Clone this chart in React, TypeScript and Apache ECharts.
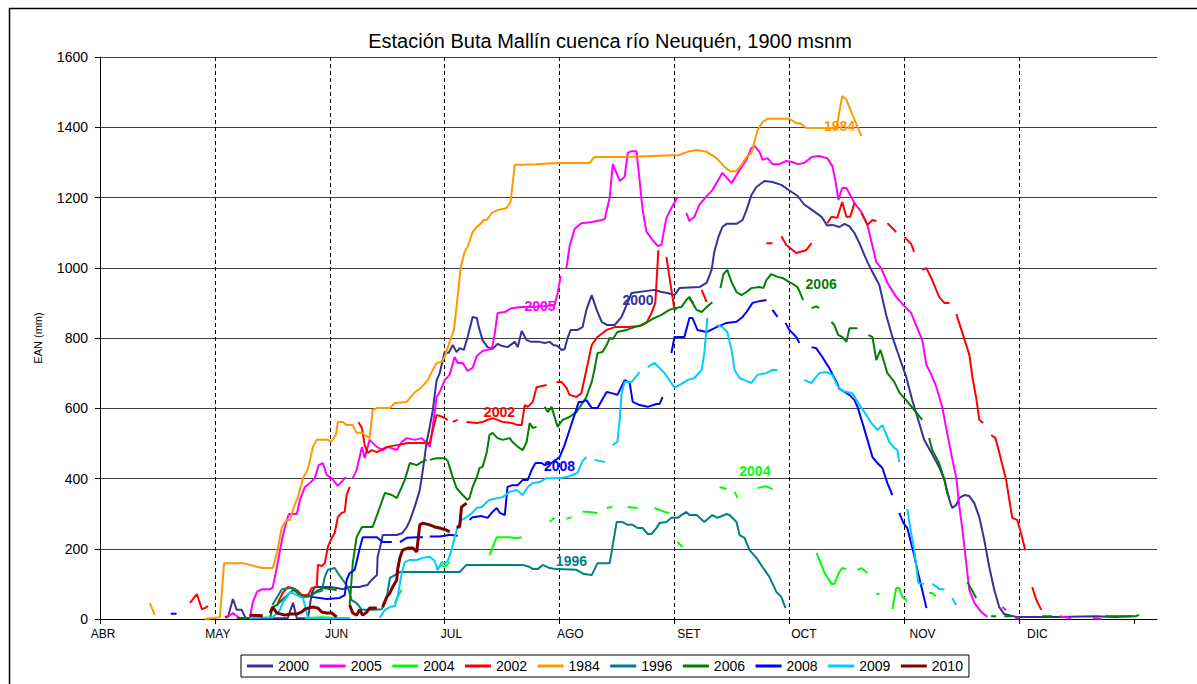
import React, { useEffect, useRef } from "react";
import * as echarts from "echarts";

const TITLE = "Estación Buta Mallín cuenca río Neuquén, 1900 msnm";
const Y_NAME = "EAN (mm)";
const MONTH_NAMES = ["ABR", "MAY", "JUN", "JUL", "AGO", "SET", "OCT", "NOV", "DIC"];
const MONTH_START = [0, 30, 61, 91, 122, 153, 183, 214, 244];
const TICK_DAYS = [0, 30, 60, 90, 120, 150, 180, 210, 240, 270];
const SERIES_NAMES = ["2000", "2005", "2004", "2002", "1984", "1996", "2006", "2008", "2009", "2010"];
const COLORS = ["#333399", "#FF00FF", "#00FF00", "#FF0000", "#FF9900", "#008080", "#008000", "#0000FF", "#00CCFF", "#800000"];

type P = [number, number] | null;

const S2000: P[] = [[33.4,5],[34.7,57],[35.7,26],[37,26],[38,3],[42,2],[49,2],[50.4,46],[51.4,2],[54.3,2],[55.3,74],[56.1,91],[57.9,91],[60,91],[61.8,88],[63.4,85],[65.2,91],[67.8,91],[68.6,94],[69.9,97],[70.4,105],[71.2,114],[72.3,125],[72.5,177],[73.6,225],[73.8,239],[77.5,239],[79,245],[80.1,262],[80.9,280],[82.2,320],[83.5,367],[84.3,424],[85.3,504],[86.1,547],[86.9,595],[87.4,638],[87.9,680],[88.7,700],[90,760],[91,757],[92.1,780],[93.1,760],[93.9,771],[95,766],[96,803],[97.3,860],[98.4,857],[98.9,831],[99.9,794],[101.2,774],[102.5,769],[103.8,783],[105.1,777],[106.4,774],[108.3,789],[109.1,774],[110.1,820],[111.4,794],[112.7,789],[114.8,789],[116.1,786],[117.4,789],[118.4,780],[119.5,777],[120.5,766],[121.3,768],[122.1,800],[122.9,823],[124.7,823],[126,831],[127,880],[128.4,922],[129.7,880],[131,846],[132.5,837],[134.4,837],[136.2,860],[137.8,902],[138.8,928],[144.8,937],[146.6,931],[148.2,928],[150,922],[151.3,942],[156.5,945],[158.4,957],[159.7,994],[160.4,1045],[161.5,1088],[162.5,1116],[163.6,1125],[166.2,1125],[167.8,1136],[168.8,1164],[170.1,1207],[171.4,1230],[173.5,1247],[175.6,1244],[177.9,1236],[180,1220],[182.1,1205],[183.9,1180],[186,1164],[188.4,1145],[189.9,1120],[191.2,1122],[193.1,1116],[194.4,1125],[195.7,1118],[197,1099],[198.3,1070],[199.6,1036],[200.4,1016],[201.7,988],[203.5,951],[205.3,865],[206.9,803],[208.7,746],[210.5,690],[212.1,623],[213.9,558],[215.2,510],[217.1,473],[219.1,433],[220.5,396],[221.8,339],[222.5,316],[223.6,325],[224.4,345],[225.7,353],[227,350],[228.3,330],[229.6,290],[230.9,225],[232.2,148],[233.5,83],[234.8,34],[236.1,14],[239.2,6],[250,6],[260,8],[265,6],[269.5,8]];

const S2005: P[] = [[33,3],[34.7,17],[36.5,2],null,[39.1,0],[39.9,48],[41,77],[42.3,85],[44.4,85],[45.1,90],[46.2,148],[47.5,225],[48.3,262],[49.3,299],[51.4,299],[52.2,339],[53.5,376],[54.8,387],[56.1,401],[57.1,438],[58.2,444],[59.2,410],[60.5,401],[62.1,379],[64.2,404],null,[66,401],[67,424],[68.4,490],[69.1,458],[70.4,510],[72.3,490],[73.8,481],[75.1,490],[77.5,481],[78.8,504],[80.1,515],[82.2,510],[84,515],[85.3,501],[86.1,490],[86.6,524],[87.9,632],[88.7,646],[90,680],[91.3,695],[92.6,746],[93.4,729],[94.7,729],[96,706],[97.3,715],[98.4,749],[99.9,763],[102.3,769],[103.1,814],[103.8,871],[105.7,874],[107.5,885],[110.1,888],[113,888],[116.6,891],[118.7,894],[119.5,928],[120.3,977],null,[121.8,999],[122.6,1060],[123.9,1110],[125.7,1127],[128.4,1130],[131,1136],[131.8,1139],[133.1,1201],[133.9,1295],[135.7,1247],[137,1259],[137.8,1327],[138.8,1332],[140.1,1332],[141.7,1164],[142.7,1102],[144.3,1079],[145.6,1062],[146.6,1065],[147.9,1142],[149.2,1170],[150.8,1201],null,[153.1,1156],[153.9,1133],[155.2,1145],[156.5,1179],[158.4,1204],[159.9,1221],[162.5,1270],[164.9,1241],[167,1278],[168.8,1307],[170.1,1341],[170.9,1347],[172.2,1330],[173,1307],[174.3,1312],[175.6,1295],[177.4,1295],[179.2,1304],[180.8,1301],[182.1,1295],[183.9,1298],[185.8,1315],[187.8,1318],[189.9,1312],[191.2,1290],[192,1250],[192.8,1193],[193.8,1227],[194.9,1227],[197,1184],[198.8,1159],[200.4,1122],[202.7,1016],[204,999],[205.6,957],[207.9,917],[210,891],[211.8,871],[213.4,828],[214.7,794],[215.8,723],[217.1,695],[218.4,660],[219.9,605],[221.2,530],[222.5,458],[223.6,401],[224.4,319],[225.2,253],[226.2,159],[227,83],[228.3,46],[230.1,20],[231.7,6],null,[235.6,34],[236.6,25],null,[239,2],[240,2],null,[250.5,8],[253.6,2],null,[259.3,2],[261.4,0]];

const S2004: P[] = [[53.5,3],[58.2,5],[62,3],[65.2,3],null,[77,46],[77.7,63],[78.8,83],null,[87.9,140],[89.2,154],[90,148],[91.3,162],null,[101.7,182],[103.6,233],[107,233],[108.8,230],[110.1,233],null,[117.4,276],[118.7,288],null,[121.8,285],[123.1,290],null,[126,305],[127.3,305],[129.9,302],null,[132.3,316],[133.8,319],null,[137.8,319],[140.4,316],null,[144.8,316],[147.4,305],[148.7,302],null,[150.8,219],[152.1,205],null,[161.8,376],[163.6,370],null,[165.7,362],[166.5,344],null,[171.7,373],[174,378],[175.6,370],null,[187.1,188],[189.2,131],[191,100],[191.7,100],[193.1,134],[193.8,145],[194.9,142],null,[197.8,140],[198.8,145],[200.4,131],null,[202.7,71],[203.5,71],null,[206.9,28],[207.9,88],[208.7,88],[209.5,63],[210.8,51],null,[216.5,74],[217.3,74],[218.3,65]];

const S2002: P[] = [[23.5,46],[25.3,71],[26.6,28],[27.4,31],[28.2,37],null,[32.6,5],[33.4,8],null,[46.4,46],[47.7,74],[49,91],[50.4,88],[51.7,80],[52.7,68],[54.3,68],[55.3,88],[56.6,91],[56.9,154],[57.9,151],[58.7,159],[59.5,205],[60.5,231],[61.3,245],[62.1,290],[63.1,302],[63.9,305],[64.4,353],[65.2,376],null,[67.5,560],[68.4,544],[69.1,495],[69.9,473],[71,481],[72.3,475],[74.9,490],[77.5,495],[80.4,501],[82.7,501],[84.8,501],[86.1,501],[86.9,538],[87.9,581],[89.5,575],[90.8,567],null,[92.1,561],[93.4,567],null,[95.7,561],[98.4,558],[99.9,561],[101.2,567],[102.5,572],[103.8,567],[105.1,561],[107.5,558],[109.1,552],[110.1,552],[110.9,609],[111.7,604],[113,618],[114,660],[116.6,666],null,[119.2,675],[120.5,675],[121.8,658],[122.6,638],[124.4,632],[125.7,643],[127,709],[128.4,780],[129.9,803],[132.3,823],[134.4,831],[137.8,831],[140.9,834],[142.7,843],[144,871],[145,900],[145.8,1050],null,[147.9,1031],[150,880],[150.5,883],null,[153.9,911],[155,900],null,[157.1,937],[158.4,902],null,[174,1070],[175.6,1070],null,[177.9,1090],[179.2,1065],[181.8,1042],[184.4,1050],[185.8,1070],null,[189.9,1127],[191,1145],[192.5,1142],[193.8,1187],[194.9,1145],[195.9,1145],[197,1184],null,[198.8,1156],[200.4,1122],[201.7,1136],[202.7,1133],null,[205.6,1127],[207.9,1102],null,[210,1088],[211.8,1068],[212.6,1045],null,[214.7,994],[215.8,999],[217.3,965],[219.1,917],[220.5,900],[221.8,900],null,[223.6,868],[225.2,814],[227,752],[227.8,689],[228.8,629],[229.6,567],[230.6,558],null,[232.7,524],[233.8,515],[234.8,475],[236.6,396],[238.2,288],[239.5,282],[240.5,245],[241.6,196],null,[243.4,91],[244.5,54],[245.8,26]];

const S1984: P[] = [[13,45],[14.3,12],null,[27.4,0],[29.5,3],[31.3,5],[32.4,159],[37.3,159],[42.3,145],[45.1,145],[46.2,188],[47.5,262],[48.8,282],[49.6,282],[50.6,319],[51.7,347],[53,401],[54.3,427],[55.6,490],[56.6,510],[59.5,510],[60.3,504],[61.6,524],[62.1,561],[63.4,561],[64.4,552],[66,552],[67,530],[68.4,530],[69.1,524],[70.4,515],[71.2,595],[72.5,601],[75.7,601],[77,615],[80.1,618],[80.9,629],[82.2,645],[84,660],[85.6,680],[86.6,703],[87.9,729],[89.2,732],[90,746],[91.3,789],[92.4,823],[93.1,888],[94.2,1002],[95.2,1045],[96,1059],[97.3,1102],[98.4,1116],[99.1,1122],[100.2,1136],[101,1136],[102.3,1156],[103.8,1164],[106.2,1170],[107.2,1187],[108.3,1293],[110.1,1293],[114,1295],[119.2,1298],[127.8,1298],[129.1,1315],[137.5,1315],[144.3,1318],[151.3,1321],[153.4,1330],[155.8,1335],[158.4,1330],[161,1312],[163.1,1287],[164.5,1275],[166.2,1275],[167.5,1293],[168.8,1315],[170.1,1327],[171.7,1392],[173,1415],[174.3,1424],[180,1424],[181.8,1412],[183.1,1410],[184.4,1398],[192.3,1398],[193.8,1489],[194.9,1478],[196.2,1443],[198.8,1375]];

const S1996: P[] = [[45,40],[47.5,85],[49.6,88],[50.9,85],[52.2,63],[54.3,63],[56.6,77],[57.9,80],[58.7,120],[59.5,140],[61.3,145],[62.1,131],[63.4,111],[64.7,91],[65.7,54],[67,45],[68.4,26],[71,26],[73.6,28],[74.9,63],[75.7,117],[77,125],[78.3,134],[93.9,134],[95.7,154],[110.4,154],[112.2,148],[113,142],[114.3,142],[115.6,154],[117.4,145],[119.2,142],[124.4,140],[126.4,128],[128.4,125],[129.9,159],[133.1,159],[134.9,276],[136.4,276],[137.8,268],[139.1,268],[140.4,259],[141.7,259],[143,242],[144,242],[145.3,259],[146.1,273],[147.9,276],[149.2,288],[150.8,288],[153.1,305],[153.9,296],[155.8,296],[157.8,276],[159.9,296],[161.2,288],[163.6,299],[164.4,296],[166.2,276],[167,239],[168.3,231],[169.6,196],[171.4,174],[173,148],[174.8,120],[176.6,77],[177.9,63],[179,31]];

const S2006: P[] = [[35.7,3],[39.1,3],null,[44.4,3],[45.1,34],[46.2,40],[47.5,54],[49,68],[49.6,74],[50.4,83],[51.7,74],[53,63],[55.3,68],[56.6,80],[58.2,88],[60.5,85],[61.8,82],null,[65.2,40],[66,159],[67,233],[68.4,262],[69.7,262],[71.2,262],[73,316],[74.4,359],[76.2,353],[77.5,344],[78.8,376],[79.6,396],[80.9,444],[82.7,438],[84,447],[85.3,453],null,[86.1,453],[87.9,458],[90,458],[90.8,450],[92.1,404],[93.1,373],[94.7,353],[96,339],[96.5,345],[97.3,376],[98.4,404],[99.1,430],[99.9,433],[101,475],[101.7,524],[102.5,530],[103.8,515],[105.1,510],[107,515],[107.7,504],[109.1,490],[110.4,481],[111.4,504],[112.2,558],[113,544],[114,547],null,[116.1,604],[116.9,589],[117.9,604],[119.5,547],[120.8,567],[122.6,575],[124.4,589],[126,615],[127,632],[128.4,675],[129.1,709],[129.9,757],[131.2,760],[132.3,780],[133.1,800],[133.9,797],[135.1,817],[137.5,823],[139.6,831],[141.4,837],[143,846],[144.8,857],[146.6,866],[148.7,880],[150,885],[151.8,888],[153.1,908],[153.9,917],[154.7,900],[155.8,880],[157.1,874],[158.4,888],[159.9,902],null,[162,942],[162.8,982],[163.8,994],[164.9,959],[166.2,931],[167.5,922],[168.8,931],[170.1,942],[172.2,945],[173.2,942],[174,965],[175.3,982],[176.9,974],[178.2,971],[180,959],[181.3,951],[182.1,945],[182.6,934],[183.6,908],null,[185.8,885],[187,890],[187.8,886],null,[191,846],[191.7,837],[192.8,808],[193.8,803],[194.9,789],[195.7,828],[197.8,828],null,[200.6,808],[201.7,803],[202.7,737],[203.8,766],[205.6,700],[207.4,675],[208.7,645],[210,629],[210.5,623],[212.6,595],[214.7,567],null,[216.5,515],[217.3,481],[219.1,444],[220.5,396],[221.2,359],[221.8,345],null,[226.5,105],[228.8,60],null,[232.7,8],[234,8],null,[236.1,8],[238.2,8],null,[246,8],[248.6,8],null,[262.5,8],[270.5,8],[271.3,12]];

const S2008: P[] = [[18.5,15],[20,15],null,[55.3,63],[59.2,57],[62.6,60],[63.9,68],[64.4,111],[65.2,131],[66.5,140],[67.8,200],[68.6,233],[72.3,233],[73.8,219],[76.2,219],null,[78.3,219],[80.1,231],[82.7,233],[84.3,233],null,[86.1,235],[88.7,235],[90,237],[91.3,240],[93.4,237],null,[96.5,282],[97.3,290],[99.7,293],[101.2,288],[102.5,305],[103.6,316],[104.4,302],[105.7,296],[106.4,376],[107.7,381],[109.1,381],[110.4,396],[111.7,396],[112.7,424],[113.7,444],[115.3,444],[116.1,438],[117.9,444],[120,461],[121.3,495],[122.6,538],[123.9,581],[125,618],[126,618],[127,623],[128.4,601],[129.9,601],[132.3,646],[133.6,643],[135.1,638],[137,680],[138.3,672],[139.1,618],[140.9,609],[143,604],[145.3,612],[146.1,612],[146.9,632],null,[149.2,757],[150,803],[152.6,803],[153.9,857],[154.7,857],[156,823],[158.4,817],[161,831],[163.6,843],[166.2,846],[167.8,860],[168.8,874],[170.4,900],[172.2,905],[174,908],null,[175.6,880],[176.9,860],null,[179,843],[180,823],[181.8,803],[182.6,786],null,[185.8,774],[187,771],[188.6,746],[190.4,715],[192.3,675],[193.1,655],[195.7,638],[197,623],[197.8,604],[199.1,558],[200.4,510],[201.7,461],[203,444],[204.3,430],[205.6,387],[206.9,353],null,[208.7,302],[209.8,273],[210.8,259],[211.8,216],[212.6,182],[213.4,140],[214.5,91],[215.8,31]];

const S2009: P[] = [[39.1,3],[45.1,5],[47,26],[47.7,46],[48.8,63],[49.6,77],[51.4,68],[53,60],[54.3,3],[57.9,3],[62,3],[65.2,3],null,[73,3],[74.4,26],[75.7,34],[77,37],[77.7,63],[78.8,131],[79.6,162],[80.9,168],[82.7,168],[84.3,174],[86.1,177],[87.4,165],[88.2,140],[89.2,162],[90,158],[90.8,165],[91.8,196],[92.6,233],[93.4,262],[94.4,282],[95.7,290],[97.1,302],[98.4,316],[99.7,319],[101,333],[101.7,339],[103.6,344],[105.1,347],[107,362],[108.8,367],[110.4,353],[111.7,376],[113,387],[114.8,390],[116.6,401],[118.2,401],[120,401],[121.8,404],[123.4,410],[124.7,416],[126,450],[127,461],null,[129.1,453],[131.8,447],null,[133.8,495],[135.1,504],[135.7,567],[136.2,643],[137,675],[138.8,675],[140.9,703],null,[143,717],[144.8,729],[146.1,715],[147.4,700],[149.2,672],[150,658],[151.3,666],[153.4,680],[155.2,686],[157.1,709],[157.8,757],[158.6,857],null,[161,837],[162.5,831],[163.8,817],[164.9,766],[165.7,709],[167,686],[168.3,680],[170.1,672],[171.7,695],[174,700],[175.6,709],[176.9,709],null,[183.9,680],[185.8,672],[187.8,700],[189.7,703],[191.2,695],[192.5,665],[193.8,649],[195.1,646],[196.4,643],[198.8,601],[200.1,581],[201.4,558],[203,538],[204.3,552],[206.1,504],[207.4,487],[208.2,481],[208.7,447],null,[210.8,313],[211.8,245],[212.6,196],[213.7,102],[215.2,100],null,[217.3,100],[218.6,91],[219.1,85],[220.5,85],null,[222.5,60],[223.6,40]];

const S2010: P[] = [[39.1,11],[42.5,9],null,[44.4,17],[45.1,34],[46.2,17],[48.3,11],[49.6,14],[51.4,14],[52.7,20],[53.5,28],[54.3,31],[55.6,34],[56.9,31],[57.9,20],[59.2,17],[60.5,17],[61.8,6],null,[65.2,40],[66,17],[67,11],[67.8,26],[68.6,11],[69.7,20],[70.4,31],[72.3,31],null,[73.8,34],[74.9,63],[75.7,74],[76.4,91],[77.5,111],[77.7,140],[78.3,174],[79,196],[80.4,202],[81.7,202],[82.7,191],[83.5,268],[84.3,273],[86.1,268],[87.4,262],[88.7,259],[90.5,253],[91.3,248],null,[93.1,262],[93.9,262],[94.4,319],[95.7,330]];

const SERIES_DATA = [S2000, S2005, S2004, S2002, S1984, S1996, S2006, S2008, S2009, S2010];

const LABEL_TEXT = ["1984", "2005", "2000", "2006", "2002", "2008", "2004", "1996"];
const LABEL_DAY = [193.1, 114.9, 140.5, 188.3, 104.3, 120, 171, 123.1];
const LABEL_VAL = [1404, 891, 908, 954, 590, 436, 421, 165];
const LABEL_COLOR = ["#FF9900", "#FF00FF", "#333399", "#008000", "#FF0000", "#0000FF", "#00FF00", "#008080"];

const FONT = "'Liberation Sans', Arial, sans-serif";

export default function App() {
  const ref = useRef<HTMLDivElement>(null);
  useEffect(() => {
    document.body.style.margin = "0";
    const chart = echarts.init(ref.current!, null, { renderer: "svg" });
    const series = SERIES_NAMES.map((name, i) => ({
      name,
      type: "line",
      data: SERIES_DATA[i].map((p) => (p ? p : ["-", "-"])),
      symbol: "none",
      showSymbol: false,
      connectNulls: false,
      smooth: false,
      lineStyle: { color: COLORS[i], width: name === "2010" ? 3 : 2 },
      itemStyle: { color: COLORS[i] },
      z: 2 + i,
    }));
    chart.setOption({
      animation: false,
      backgroundColor: "#fff",
      textStyle: { fontFamily: FONT },
      title: {
        text: TITLE,
        left: 605,
        top: 26,
        textAlign: "center",
        textStyle: { fontFamily: FONT, fontSize: 20, fontWeight: "normal", color: "#000" },
      },
      grid: { left: 100, right: 40, top: 57, bottom: 65 },
      legend: {
        data: SERIES_NAMES.map((n) => ({ name: n, icon: "rect" })),
        left: 241,
        top: 655,
        orient: "horizontal",
        itemWidth: 26,
        itemHeight: 3,
        itemGap: 10.5,
        padding: [4, 6],
        borderColor: "#000",
        borderWidth: 1,
        textStyle: { fontFamily: FONT, fontSize: 14, color: "#000", lineHeight: 14 },
      },
      xAxis: {
        type: "value",
        min: 0,
        max: 276,
        interval: 30,
        axisLine: { show: true, lineStyle: { color: "#000", width: 1 } },
        axisTick: { show: true, length: 5, customValues: TICK_DAYS, lineStyle: { color: "#000" } },
        axisLabel: {
          customValues: MONTH_START,
          formatter: (v: number) => {
            const k = MONTH_START.indexOf(Math.round(v));
            return k >= 0 ? MONTH_NAMES[k] : "";
          },
          fontFamily: FONT,
          fontSize: 12,
          color: "#000",
          margin: 9,
          padding: [0, 0, 0, 6],
        },
        splitLine: {
          show: true,
          showMinLine: false,
          showMaxLine: false,
          lineStyle: { color: "#000", type: [4, 3], width: 1 },
        },
      },
      yAxis: {
        type: "value",
        min: 0,
        max: 1600,
        interval: 200,
        name: Y_NAME,
        nameLocation: "middle",
        nameGap: 57,
        nameTextStyle: { fontFamily: FONT, fontSize: 11, color: "#000" },
        axisLine: { show: true, lineStyle: { color: "#000", width: 1 } },
        axisTick: { show: true, length: 5, lineStyle: { color: "#000" } },
        axisLabel: {
          fontFamily: FONT,
          fontSize: 14,
          color: "#000",
          margin: 12,
          formatter: (v: number) => String(v),
        },
        splitLine: { show: true, lineStyle: { color: "#404040", width: 1 } },
      },
      series,
    });
    const texts = LABEL_TEXT.map((t, i) => {
      const pt = chart.convertToPixel({ gridIndex: 0 }, [LABEL_DAY[i], LABEL_VAL[i]]) as number[];
      return {
        type: "text",
        x: pt[0],
        y: pt[1],
        z: 100,
        style: {
          text: t,
          fill: LABEL_COLOR[i],
          font: `bold 14px ${FONT}`,
          align: "center",
          verticalAlign: "middle",
        },
      };
    });
    chart.setOption({
      graphic: [
        {
          type: "rect",
          left: 7,
          top: 6,
          z: 0,
          silent: true,
          shape: { width: 1200, height: 690 },
          style: { fill: "none", stroke: "#000", lineWidth: 1.5 },
        },
        ...texts,
      ],
    });
    return () => chart.dispose();
  }, []);
  return <div ref={ref} style={{ width: 1197, height: 684 }} />;
}
